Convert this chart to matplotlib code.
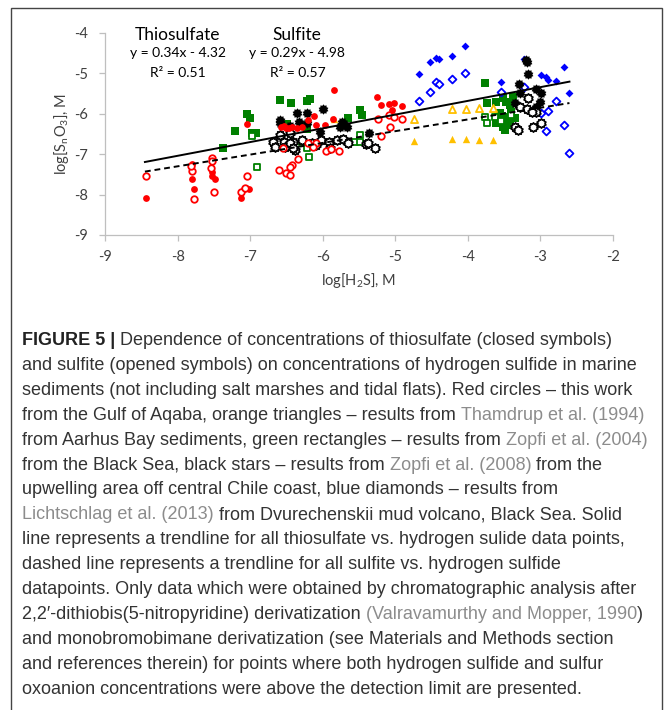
import matplotlib
matplotlib.use('Agg')
import matplotlib.pyplot as plt
import matplotlib.patches as patches
from matplotlib.path import Path
import numpy as np

plt.rcParams['font.family'] = ['Lato', 'DejaVu Sans']
plt.rcParams['mathtext.fontset'] = 'custom'
plt.rcParams['mathtext.rm'] = 'Lato'
plt.rcParams['mathtext.it'] = 'Lato:italic'
plt.rcParams['axes.unicode_minus'] = False

# this work, Gulf of Aqaba (red circles)
red_thio_x = [-8.43, -7.80, -7.80, -7.78, -7.53, -7.52, -7.49, -7.04, -7.13, -7.06, -7.02, -7.09,
              -5.85, -6.57, -6.53, -6.50, -6.47, -6.43, -6.36, -6.29, -6.20, -6.12, -6.09, -5.97,
              -5.86, -5.25, -5.20, -5.08, -5.02, -5.05, -4.91]
red_thio_y = [-8.08, -7.24, -7.62, -7.85, -7.45, -7.55, -7.62, -6.26, -8.08, -7.84, -7.87, -7.86,
              -5.41, -6.32, -6.30, -6.34, -6.36, -6.33, -6.34, -6.32, -6.15, -6.05, -6.28, -6.28,
              -6.14, -5.59, -5.78, -5.76, -5.73, -5.91, -5.80]
red_sulf_x = [-8.43, -7.80, -7.81, -7.78, -7.53, -7.53, -7.54, -7.50, -7.04, -7.13, -7.07, -6.55,
              -6.20, -6.09, -6.13, -5.96, -5.88, -5.77, -6.34, -6.43, -6.45, -6.60, -6.50, -6.45,
              -5.24, -5.08, -5.02, -4.91, -5.07, -5.20]
red_sulf_y = [-7.54, -7.42, -7.30, -8.11, -7.10, -7.17, -7.35, -7.94, -7.53, -7.94, -7.83, -6.85,
              -6.72, -6.72, -6.81, -6.91, -6.87, -6.93, -7.12, -7.27, -7.32, -7.39, -7.47, -7.51,
              -6.13, -6.03, -6.07, -6.13, -6.33, -6.54]

# Thamdrup et al. 1994 (orange triangles)
orange_thio_x = [-5.85, -4.74, -4.22, -4.03, -3.85, -3.66]
orange_thio_y = [-6.14, -6.67, -6.63, -6.63, -6.65, -6.65]
orange_sulf_x = [-4.74, -4.22, -4.03, -3.85, -3.66]
orange_sulf_y = [-6.14, -5.89, -5.89, -5.86, -5.86]

# Zopfi et al. 2004 (green squares)
green_thio_x = [-7.38, -7.21, -7.04, -7.00, -6.98, -6.92, -6.59, -6.44, -6.21, -6.18, -6.49, -6.22,
                -5.65, -5.49, -5.46, -3.77, -3.74, -3.61, -3.51, -3.47, -3.42, -3.38, -3.58, -3.51,
                -3.45, -3.35, -3.61, -3.51, -3.42, -3.56, -3.49, -3.40, -3.53, -3.45]
green_thio_y = [-6.84, -6.42, -6.01, -6.11, -6.48, -6.47, -5.66, -5.74, -5.68, -5.63, -6.26, -6.38,
                -6.11, -5.91, -6.03, -5.23, -5.73, -5.70, -5.62, -5.70, -5.78, -5.58, -6.07, -6.15,
                -6.07, -6.11, -6.24, -6.32, -6.20, -5.99, -6.40, -5.95, -6.05, -6.28]
green_sulf_x = [-6.98, -6.91, -6.19, -6.22, -6.28, -5.49, -5.56, -5.48, -3.77, -3.73, -3.63, -3.40, -3.55]
green_sulf_y = [-6.55, -7.31, -7.08, -6.85, -6.70, -6.52, -6.69, -6.70, -6.09, -6.24, -6.07, -6.03, -6.18]

# Zopfi et al. 2008 (black stars)
black_thio_x = [-6.59, -6.59, -6.35, -6.21, -6.00, -6.33, -6.22, -6.04, -5.74, -5.67, -5.76, -5.36,
                -5.70, -6.45, -3.19, -3.17, -3.29, -3.28, -3.06, -2.99, -3.01, -3.06, -3.35, -3.20]
black_thio_y = [-6.15, -6.24, -5.99, -5.99, -5.89, -6.20, -6.24, -6.44, -6.20, -6.32, -6.32, -6.48,
                -6.25, -6.30, -4.73, -5.01, -5.26, -5.48, -5.39, -5.49, -5.70, -5.82, -5.74, -4.67]
black_sulf_x = [-6.68, -6.54, -6.41, -6.29, -6.15, -6.02, -5.92, -5.81, -5.72, -5.65, -5.40, -5.28,
                -6.66, -6.52, -6.38, -5.90, -6.09, -6.59, -6.45, -6.45, -6.41, -5.37, -3.17, -3.28,
                -3.19, -3.06, -2.99, -3.35, -3.31, -3.10, -3.12]
black_sulf_y = [-6.69, -6.69, -6.69, -6.65, -6.73, -6.65, -6.69, -6.65, -6.63, -6.72, -6.75, -6.84,
                -6.81, -6.81, -6.90, -6.84, -6.77, -6.52, -6.48, -6.73, -6.85, -6.72, -5.60, -5.84,
                -5.89, -5.95, -6.24, -6.32, -6.40, -6.32, -5.95]

# Lichtschlag et al. 2013 (blue diamonds)
blue_thio_x = [-4.68, -4.52, -4.44, -4.40, -4.22, -4.04, -3.54, -3.23, -2.99, -2.93, -2.90, -2.78, -2.67, -2.60]
blue_thio_y = [-5.02, -4.71, -4.63, -4.64, -4.57, -4.31, -5.21, -4.65, -5.04, -5.08, -5.16, -5.19, -4.83, -5.49]
blue_sulf_x = [-4.68, -4.52, -4.44, -4.40, -4.22, -4.04, -3.54, -3.23, -2.99, -2.90, -2.79, -2.93, -2.67, -2.60]
blue_sulf_y = [-5.68, -5.45, -5.21, -5.26, -5.15, -4.98, -5.47, -5.33, -5.99, -5.93, -5.68, -6.42, -6.28, -6.98]

# trendlines (as printed on the chart)
thio_slope, thio_icpt = 0.34, -4.32
sulf_slope, sulf_icpt = 0.29, -4.98
trend_x = [-8.45, -2.6]

caption = [
    [("FIGURE 5 |", 'b'), (" Dependence of concentrations of thiosulfate (closed symbols)", 'n')],
    [("and sulfite (opened symbols) on concentrations of hydrogen sulfide in marine", 'n')],
    [("sediments (not including salt marshes and tidal flats). Red circles \u2013 this work", 'n')],
    [("from the Gulf of Aqaba, orange triangles \u2013 results from ", 'n'), ("Thamdrup et al. (1994)", 'l')],
    [("from Aarhus Bay sediments, green rectangles \u2013 results from ", 'n'), ("Zopfi et al. (2004)", 'l')],
    [("from the Black Sea, black stars \u2013 results from ", 'n'), ("Zopfi et al. (2008)", 'l'), (" from the", 'n')],
    [("upwelling area off central Chile coast, blue diamonds \u2013 results from", 'n')],
    [("Lichtschlag et al. (2013)", 'l'), (" from Dvurechenskii mud volcano, Black Sea. Solid", 'n')],
    [("line represents a trendline for all thiosulfate vs. hydrogen sulide data points,", 'n')],
    [("dashed line represents a trendline for all sulfite vs. hydrogen sulfide", 'n')],
    [("datapoints. Only data which were obtained by chromatographic analysis after", 'n')],
    [("2,2\u2032-dithiobis(5-nitropyridine) derivatization ", 'n'), ("(Valravamurthy and Mopper, 1990", 'l'), (")", 'n')],
    [("and monobromobimane derivatization (see Materials and Methods section", 'n')],
    [("and references therein) for points where both hydrogen sulfide and sulfur", 'n')],
    [("oxoanion concentrations were above the detection limit are presented.", 'n')],
]

W, H = 670, 710
fig = plt.figure(figsize=(W / 100, H / 100), dpi=100)
ax = fig.add_axes([105 / W, 1 - 235 / H, 508 / W, 202 / H])

gear = Path.unit_regular_star(10, 0.75)

ax.scatter(green_thio_x, green_thio_y, s=26, marker='s', c='#008000', linewidths=0, zorder=2)
ax.scatter(green_sulf_x, green_sulf_y, s=22, marker='s', facecolors='white', edgecolors='#008000', linewidths=1.3, zorder=2)
ax.scatter(blue_thio_x, blue_thio_y, s=16, marker='D', c='#0000ff', linewidths=0, zorder=2)
ax.scatter(blue_sulf_x, blue_sulf_y, s=16, marker='D', facecolors='white', edgecolors='#0000ff', linewidths=1.3, zorder=2)
ax.scatter(orange_thio_x, orange_thio_y, s=28, marker='^', c='#ffc000', linewidths=0, zorder=2)
ax.scatter(orange_sulf_x, orange_sulf_y, s=26, marker='^', facecolors='white', edgecolors='#ffc000', linewidths=1.3, zorder=2)
ax.scatter(black_thio_x, black_thio_y, s=55, marker=gear, c='black', linewidths=0, zorder=3)
ax.scatter(black_sulf_x, black_sulf_y, s=45, marker=gear, facecolors='white', edgecolors='black', linewidths=1.2, zorder=3)
ax.scatter(red_thio_x, red_thio_y, s=24, marker='o', c='#ff0000', linewidths=0, zorder=4)
ax.scatter(red_sulf_x, red_sulf_y, s=22, marker='o', facecolors='white', edgecolors='#ff0000', linewidths=1.3, zorder=4)

tx = np.array(trend_x)
ax.plot(tx, thio_slope * tx + thio_icpt, color='black', lw=1.4, zorder=5)
ax.plot(tx, sulf_slope * tx + sulf_icpt, color='black', lw=1.4, ls=(0, (3, 2)), zorder=5)

ax.set_xlim(-9, -2)
ax.set_ylim(-9, -4)
ax.set_xticks(range(-9, -1))
ax.set_yticks(range(-9, -3))
for s in ['top', 'right']:
    ax.spines[s].set_visible(False)
for s in ['left', 'bottom']:
    ax.spines[s].set_color('#bfbfbf')
    ax.spines[s].set_linewidth(0.9)
ax.tick_params(colors='#bfbfbf', labelcolor='#404040', labelsize=10.5, length=4, width=0.9)
ax.tick_params(axis='x', pad=7)
ax.tick_params(axis='y', pad=8)
ax.set_xlabel('log[H$_2$S], M', fontsize=10.5, color='#404040')
ax.set_ylabel(r'log[S$_\mathrm{n}$O$_3$], M', fontsize=10.5, color='#404040')
ax.xaxis.set_label_coords(0.5, -0.18)
ax.yaxis.set_label_coords(-0.066, 0.5)

ax.text(-8.0, -4.05, 'Thiosulfate', ha='center', va='center', fontsize=12.5, color='black')
ax.text(-8.0, -4.5, 'y = 0.34x - 4.32', ha='center', va='center', fontsize=10, color='black')
ax.text(-8.0, -4.99, 'R\u00b2 = 0.51', ha='center', va='center', fontsize=10, color='black')
ax.text(-6.35, -4.05, 'Sulfite', ha='center', va='center', fontsize=12.5, color='black')
ax.text(-6.35, -4.5, 'y = 0.29x - 4.98', ha='center', va='center', fontsize=10, color='black')
ax.text(-6.35, -4.99, 'R\u00b2 = 0.57', ha='center', va='center', fontsize=10, color='black')

# outer frame
fig.patches.append(patches.Rectangle((11 / W, -0.05), (662 - 11) / W, (H - 8) / H + 0.05,
                                     transform=fig.transFigure, fill=False,
                                     edgecolor='#444444', lw=1.0))

# caption, segment by segment
renderer = fig.canvas.get_renderer()
cap_font = ['Liberation Sans', 'DejaVu Sans']
colors = {'n': '#333333', 'b': '#222222', 'l': '#8c8c8c'}
y0 = 345
for i, line in enumerate(caption):
    x = 22
    y = 1 - (y0 + i * 24.9) / H
    for txt, kind in line:
        t = fig.text(x / W, y, txt, fontsize=13, family=cap_font,
                     fontweight='bold' if kind == 'b' else 'normal',
                     color=colors[kind], ha='left', va='baseline')
        x += t.get_window_extent(renderer).width

fig.savefig('out.png', dpi=100)
